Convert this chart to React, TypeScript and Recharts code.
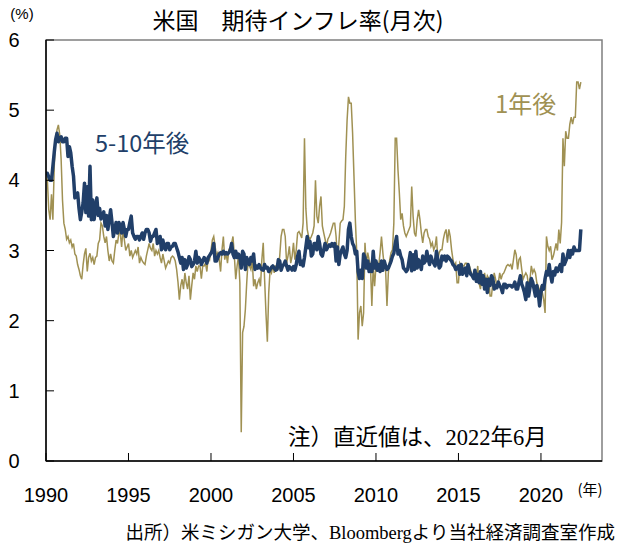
import React from "react";
import { LineChart, Line, XAxis, YAxis, ReferenceArea } from "recharts";

// 1年後 (UMich 1-year ahead), monthly from 1990/01
const oneYear1990s = [
  4.1, 4.0, 3.58, 3.44, 3.8, 3.44, 4.2, 4.6, 4.72, 4.79, 4.65, 4.3,
  3.72, 3.39, 3.3, 3.16, 3.2, 3.11, 3.15, 3.05, 3.1, 2.95, 2.92, 2.8,
  2.73, 2.64, 2.59, 2.8, 2.95, 3.03, 2.7, 2.9, 2.96, 2.85, 2.9, 2.8,
  2.9, 2.92, 3.1, 3.15, 3.39, 3.35, 3.2, 3.11, 3.2, 3.0, 2.85, 2.95,
  2.85, 2.82, 3.0, 3.15, 3.1, 3.25, 3.25, 3.05, 3.3, 3.15, 3.0, 3.05,
  3.1, 2.92, 3.0, 2.9, 2.95, 3.0, 2.95, 3.05, 2.82, 2.9, 2.85, 2.82,
  2.8, 2.92, 3.01, 3.1, 3.03, 3.0, 3.1, 2.92, 3.0, 2.95, 3.0, 2.9,
  2.82, 2.95, 2.85, 2.75, 2.8, 2.85, 2.82, 2.9, 2.92, 2.9, 2.85, 2.73,
  2.55, 2.3, 2.5, 2.59, 2.45, 2.68, 2.54, 2.45, 2.64, 2.3, 2.5, 2.68,
  2.59, 2.78, 2.7, 2.78, 2.78, 2.6, 2.78, 2.78, 2.82, 2.7, 2.92, 2.87,
];
const oneYear2000s = [
  3.0, 3.15, 3.2, 3.06, 2.92, 2.97, 2.87, 2.7, 3.01, 3.2, 2.87, 2.97,
  2.82, 3.01, 2.99, 3.1, 3.2, 2.92, 2.59, 2.78, 2.92, 2.54, 0.41, 1.83,
  1.92, 2.16, 2.54, 2.87, 2.78, 2.73, 2.87, 2.49, 2.59, 2.45, 2.54, 2.59,
  2.49, 2.87, 3.11, 2.59, 2.1, 1.7, 2.4, 2.73, 2.68, 2.78, 2.68, 2.78,
  2.78, 2.73, 2.92, 3.2, 3.3, 3.3, 3.2, 2.82, 2.92, 3.06, 2.82, 2.92,
  3.11, 2.87, 3.01, 3.25, 3.27, 3.23, 3.18, 3.39, 4.6, 3.6, 3.3, 3.2,
  3.16, 3.2, 3.25, 3.35, 4.0, 3.49, 3.39, 3.63, 3.77, 3.35, 3.25, 3.16,
  3.06, 3.16, 3.2, 3.25, 3.32, 3.39, 3.39, 3.2, 2.87, 3.1, 3.39, 3.42,
  3.44, 3.63, 4.34, 4.86, 5.19, 5.1, 5.1, 4.67, 4.06, 3.44, 2.97, 1.73,
  2.11, 2.21, 1.92, 2.11, 3.11, 2.78, 2.97, 2.87, 2.78, 2.21, 2.78, 2.49,
];
const oneYear2010s = [
  2.78, 2.82, 2.78, 2.97, 3.2, 2.97, 2.78, 2.73, 2.21, 2.68, 2.87, 2.97,
  3.01, 3.39, 4.6, 4.6, 4.15, 3.82, 3.44, 3.53, 3.35, 3.25, 3.2, 3.25,
  3.3, 3.35, 3.91, 3.49, 3.25, 3.2, 3.44, 3.58, 3.44, 3.25, 3.11, 3.25,
  3.3, 3.3, 3.2, 3.16, 3.06, 3.11, 3.01, 3.06, 3.2, 2.87, 2.97, 3.01,
  3.01, 3.16, 3.25, 3.3, 3.11, 3.3, 3.2, 3.01, 2.87, 2.78, 2.82, 2.54,
  2.54, 2.82, 2.78, 2.78, 2.78, 2.82, 2.82, 2.68, 2.78, 2.71, 2.64, 2.64,
  2.73, 2.59, 2.78, 2.54, 2.45, 2.64, 2.54, 2.68, 2.54, 2.64, 2.6, 2.35,
  2.35, 2.54, 2.68, 2.59, 2.49, 2.54, 2.68, 2.59, 2.66, 2.68, 2.73, 2.78,
  2.8, 2.78, 2.8, 2.73, 2.87, 3.01, 2.94, 2.73, 2.87, 2.9, 2.73, 2.59,
  2.64, 2.68, 2.64, 2.49, 2.59, 2.78, 2.68, 2.73, 2.68, 2.54, 2.49, 2.4,
];
const oneYear2020s = [
  2.5, 2.4, 2.3, 2.11, 3.2, 3.06, 3.0, 3.06, 2.87, 2.92, 3.01, 3.1,
  3.0, 3.3, 3.1, 3.4, 4.6, 4.2, 4.7, 4.6, 4.6, 4.8, 4.9, 4.8,
  4.9, 4.9, 5.4, 5.4, 5.3, 5.4,
];

// 5-10年後 (UMich 5-10 years ahead), monthly from 1990/01
const longRun1990s = [
  4.1, 4.1, 4.05, 4.0, 4.0, 4.2, 4.4, 4.58, 4.67, 4.55, 4.6, 4.62,
  4.55, 4.55, 4.6, 4.6, 4.34, 4.48, 4.39, 4.2, 4.06, 3.75, 3.8, 3.82,
  3.6, 3.44, 3.55, 3.68, 3.96, 3.54, 3.91, 3.49, 4.2, 3.44, 3.72, 3.44,
  3.6, 3.75, 3.5, 3.6, 3.45, 3.5, 3.55, 3.35, 3.5, 3.3, 3.45, 3.58,
  3.4, 3.2, 3.3, 3.4, 3.25, 3.4, 3.35, 3.25, 3.4, 3.3, 3.2, 3.3,
  3.3, 3.4, 3.49, 3.25, 3.2, 3.16, 3.2, 3.2, 3.15, 3.2, 3.25, 3.16,
  3.25, 3.3, 3.3, 3.25, 3.13, 3.2, 3.2, 3.25, 3.3, 3.1, 3.15, 3.2,
  3.01, 3.15, 3.05, 3.01, 3.1, 3.1, 3.01, 3.05, 3.06, 3.1, 3.1, 3.04,
  2.98, 2.9, 2.82, 2.9, 2.73, 2.87, 2.75, 2.8, 2.91, 2.87, 2.77, 2.8,
  2.85, 2.99, 2.82, 2.9, 2.87, 2.8, 2.85, 2.9, 2.87, 2.82, 2.9, 2.93,
];
const longRun2000s = [
  2.96, 3.0, 3.1, 2.85, 2.85, 2.9, 2.95, 2.97, 2.95, 2.99, 2.95, 2.97,
  2.95, 2.97, 3.0, 3.1, 2.95, 2.9, 2.99, 2.9, 2.95, 2.9, 2.75, 2.99,
  2.95, 2.73, 2.9, 2.85, 2.8, 2.9, 2.85, 2.95, 2.73, 2.78, 2.75, 2.8,
  2.75, 2.73, 2.72, 2.8, 2.75, 2.76, 2.7, 2.73, 2.76, 2.78, 2.75, 2.72,
  2.73, 2.87, 2.85, 2.72, 2.78, 2.8, 2.85, 2.78, 2.72, 2.77, 2.75, 2.72,
  2.77, 2.72, 2.8, 2.92, 2.99, 2.8, 2.85, 2.78, 2.9, 3.05, 3.2, 3.04,
  3.13, 2.92, 2.95, 3.1, 3.1, 3.01, 3.2, 3.1, 2.95, 2.92, 3.01, 3.1,
  3.01, 3.05, 3.08, 3.06, 3.1, 3.06, 3.1, 2.85, 3.05, 2.8, 2.95, 3.0,
  3.05, 2.95, 2.9, 3.0, 3.3, 3.39, 3.2, 3.1, 3.06, 2.95, 2.99, 2.7,
  2.6, 2.72, 2.6, 2.95, 2.9, 2.75, 2.85, 2.7, 2.8, 2.7, 2.99, 2.75,
];
const longRun2010s = [
  2.85, 2.72, 2.8, 2.7, 2.85, 2.72, 2.85, 2.78, 2.73, 2.75, 2.8, 2.85,
  2.92, 2.96, 3.1, 3.2, 2.95, 3.0, 2.92, 2.87, 2.75, 2.73, 2.7, 2.73,
  2.85, 2.97, 2.71, 2.94, 2.73, 2.99, 2.75, 2.87, 2.8, 2.73, 2.92, 2.82,
  2.85, 2.99, 2.87, 2.8, 2.92, 2.85, 2.82, 2.78, 2.99, 2.87, 2.75, 2.78,
  2.92, 2.87, 2.92, 2.85, 2.92, 2.9, 2.87, 2.85, 2.8, 2.78, 2.73, 2.75,
  2.78, 2.66, 2.8, 2.66, 2.73, 2.75, 2.64, 2.8, 2.7, 2.66, 2.64, 2.6,
  2.72, 2.56, 2.66, 2.54, 2.7, 2.52, 2.64, 2.45, 2.59, 2.4, 2.59, 2.5,
  2.64, 2.6, 2.45, 2.5, 2.47, 2.55, 2.5, 2.47, 2.4, 2.52, 2.52, 2.47,
  2.5, 2.5, 2.5, 2.48, 2.5, 2.55, 2.45, 2.45, 2.55, 2.64, 2.52, 2.47,
  2.4, 2.3, 2.54, 2.35, 2.47, 2.6, 2.55, 2.45, 2.35, 2.5, 2.4, 2.21,
];
const longRun2020s = [
  2.4, 2.5, 2.45, 2.6, 2.7, 2.65, 2.8, 2.65, 2.55, 2.7, 2.65, 2.75,
  2.7, 2.75, 2.8, 2.7, 2.95, 2.8, 2.85, 2.9, 3.0, 2.9, 3.0, 2.95,
  3.05, 3.0, 3.0, 3.0, 3.0, 3.3,
];

const xTicks = [1990, 1995, 2000, 2005, 2010, 2015, 2020];
const yTicks = [0, 1, 2, 3, 4, 5, 6];

const oneYear = [...oneYear1990s, ...oneYear2000s, ...oneYear2010s, ...oneYear2020s];
const longRun = [...longRun1990s, ...longRun2000s, ...longRun2010s, ...longRun2020s];

const data = oneYear.map((v, i) => ({
  t: 1990 + i / 12,
  oneYear: v,
  longRun: longRun[i],
}));

const NAVY = "#213f69";
const GOLD = "#a09153";
const NUM_FONT = "'Liberation Sans', 'Noto Sans CJK JP', sans-serif";
const JP_FONT = "'Noto Sans CJK JP', sans-serif";
const MIX_FONT = "'Liberation Serif', 'Noto Sans CJK JP', serif";

const W = 622;
const H = 546;
const PLOT_LEFT = 46;
const PLOT_TOP = 40;
const PLOT_BOTTOM = 461;

const XTick = (props: any) => {
  const { x, payload } = props;
  return (
    <g>
      <line x1={x} x2={x} y1={PLOT_BOTTOM} y2={PLOT_BOTTOM - 8} stroke="#000" strokeWidth={1} />
      <text x={x} y={502} textAnchor="middle" fontSize={20} fontFamily={NUM_FONT} fill="#000">
        {payload.value}
      </text>
    </g>
  );
};

const YTick = (props: any) => {
  const { y, payload } = props;
  return (
    <g>
      <line x1={PLOT_LEFT} x2={PLOT_LEFT + 8} y1={y} y2={y} stroke="#000" strokeWidth={1} />
      <text x={14} y={y + 7} textAnchor="middle" fontSize={20} fontFamily={NUM_FONT} fill="#000">
        {payload.value}
      </text>
    </g>
  );
};

export default function App() {
  return (
    <div style={{ position: "absolute", left: 0, top: 0, width: W, height: H, background: "#fff" }}>
      <LineChart
        width={W}
        height={H}
        data={data}
        margin={{ top: PLOT_TOP, right: 20, bottom: 55, left: 0 }}
      >
        <ReferenceArea
          x1={1990}
          x2={2023.7}
          y1={0}
          y2={6}
          fill="none"
          stroke="#7f7f7f"
          strokeWidth={1.5}
        />
        <XAxis
          dataKey="t"
          type="number"
          domain={[1990, 2023.7]}
          ticks={xTicks}
          allowDataOverflow
          axisLine={{ stroke: "#000", strokeWidth: 1.5 }}
          tickLine={false}
          tick={<XTick />}
          height={30}
          interval={0}
        />
        <YAxis
          type="number"
          domain={[0, 6]}
          ticks={yTicks}
          width={PLOT_LEFT}
          axisLine={{ stroke: "#000", strokeWidth: 1.5 }}
          tickLine={false}
          tick={<YTick />}
          interval={0}
        />
        <Line
          type="linear"
          dataKey="oneYear"
          stroke={GOLD}
          strokeWidth={1.5}
          dot={false}
          isAnimationActive={false}
        />
        <Line
          type="linear"
          dataKey="longRun"
          stroke={NAVY}
          strokeWidth={3.5}
          strokeLinejoin="round"
          dot={false}
          isAnimationActive={false}
        />
      </LineChart>
      <svg
        width={W}
        height={H}
        style={{ position: "absolute", left: 0, top: 0, pointerEvents: "none" }}
      >
        <text x={22} y={19} textAnchor="middle" fontSize={15} fontFamily={NUM_FONT}>(%)</text>
        <text x={298} y={29} textAnchor="middle" fontSize={23} fontFamily={JP_FONT}>
          米国　期待インフレ率(月次)
        </text>
        <text x={95} y={152} fontSize={23.5} fontFamily={JP_FONT} fill={NAVY}>5-10年後</text>
        <text x={495} y={113} fontSize={24} fontFamily={JP_FONT} fill={GOLD}>1年後</text>
        <text x={288} y={445} fontSize={22.5} fontFamily={MIX_FONT} fill="#000">
          注）直近値は、2022年6月
        </text>
        <text x={590} y={495} textAnchor="middle" fontSize={15} fontFamily={JP_FONT}>(年)</text>
        <text x={615} y={539} textAnchor="end" fontSize={18.5} fontFamily={MIX_FONT} fill="#000">
          出所）米ミシガン大学、Bloombergより当社経済調査室作成
        </text>
      </svg>
    </div>
  );
}
